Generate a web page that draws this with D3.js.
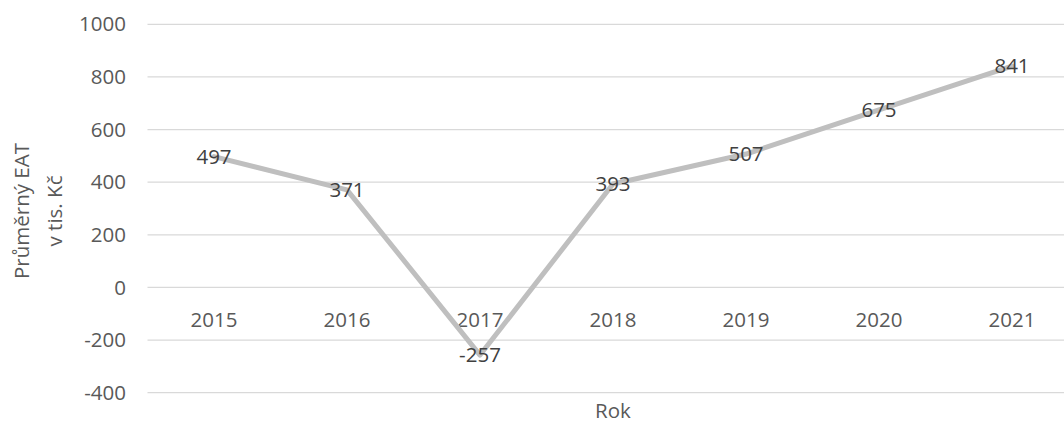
<!DOCTYPE html>
<html>
<head>
<meta charset="utf-8">
<script src="https://cdn.jsdelivr.net/npm/d3@7"></script>
<style>
  body { margin: 0; background: #fff; }
  svg text { font-family: "Open Sans", sans-serif; }
</style>
</head>
<body>
<svg id="chart" width="1064" height="424"></svg>
<script>
const years = ["2015", "2016", "2017", "2018", "2019", "2020", "2021"];
const values = [497, 371, -257, 393, 507, 675, 841];
const yTicks = [-400, -200, 0, 200, 400, 600, 800, 1000];

const width = 1064, height = 424;
const margin = {top: 24.3, left: 147.5, bottom: 31.3};
const fontSize = "20.5px";

const svg = d3.select("#chart");

let xScale = d3.scaleBand()
    .domain(years)
    .range([margin.left, margin.left + 133 * years.length]);

let yScale = d3.scaleLinear()
    .domain([-400, 1000])
    .range([height - margin.bottom, margin.top]);

// gridlines
svg.append("g")
    .selectAll("line")
    .data(yTicks)
    .enter().append("line")
    .attr("x1", margin.left)
    .attr("x2", width)
    .attr("y1", d => yScale(d))
    .attr("y2", d => yScale(d))
    .attr("stroke", "#d9d9d9")
    .attr("stroke-width", 1.3);

// y tick labels
svg.append("g")
    .selectAll("text")
    .data(yTicks)
    .enter().append("text")
    .attr("x", 126)
    .attr("y", d => yScale(d))
    .attr("dy", "0.35em")
    .attr("text-anchor", "end")
    .attr("fill", "#595959")
    .attr("font-size", fontSize)
    .text(d => d);

// category labels just below the zero line
svg.append("g")
    .selectAll("text")
    .data(years)
    .enter().append("text")
    .attr("x", d => xScale(d) + xScale.bandwidth() / 2)
    .attr("y", yScale(0) + 32)
    .attr("dy", "0.35em")
    .attr("text-anchor", "middle")
    .attr("fill", "#595959")
    .attr("font-size", fontSize)
    .text(d => d);

let points = years.map((y, i) => ({year: y, value: values[i]}));

let lineGenerator = d3.line()
    .x(d => xScale(d.year) + xScale.bandwidth() / 2)
    .y(d => yScale(d.value));

svg.append("path")
    .datum(points)
    .attr("fill", "none")
    .attr("stroke", "#bfbfbf")
    .attr("stroke-width", 5)
    .attr("stroke-linejoin", "round")
    .attr("stroke-linecap", "round")
    .attr("d", lineGenerator);

// data labels
svg.append("g")
    .selectAll("text")
    .data(points)
    .enter().append("text")
    .attr("x", d => xScale(d.year) + xScale.bandwidth() / 2)
    .attr("y", d => yScale(d.value))
    .attr("dy", "0.35em")
    .attr("text-anchor", "middle")
    .attr("fill", "#404040")
    .attr("font-size", fontSize)
    .text(d => d.value);

// axis titles
let yTitle = svg.append("text")
    .attr("transform", "translate(22,211) rotate(-90)")
    .attr("text-anchor", "middle")
    .attr("fill", "#595959")
    .attr("font-size", fontSize);
yTitle.append("tspan").attr("x", 0).attr("dy", "0.35em").text("Průměrný EAT");
yTitle.append("tspan").attr("x", 0).attr("dy", "1.6em").text("v tis. Kč");

svg.append("text")
    .attr("x", margin.left + 133 * years.length / 2)
    .attr("y", 411)
    .attr("dy", "0.35em")
    .attr("text-anchor", "middle")
    .attr("fill", "#595959")
    .attr("font-size", fontSize)
    .text("Rok");
</script>
</body>
</html>
